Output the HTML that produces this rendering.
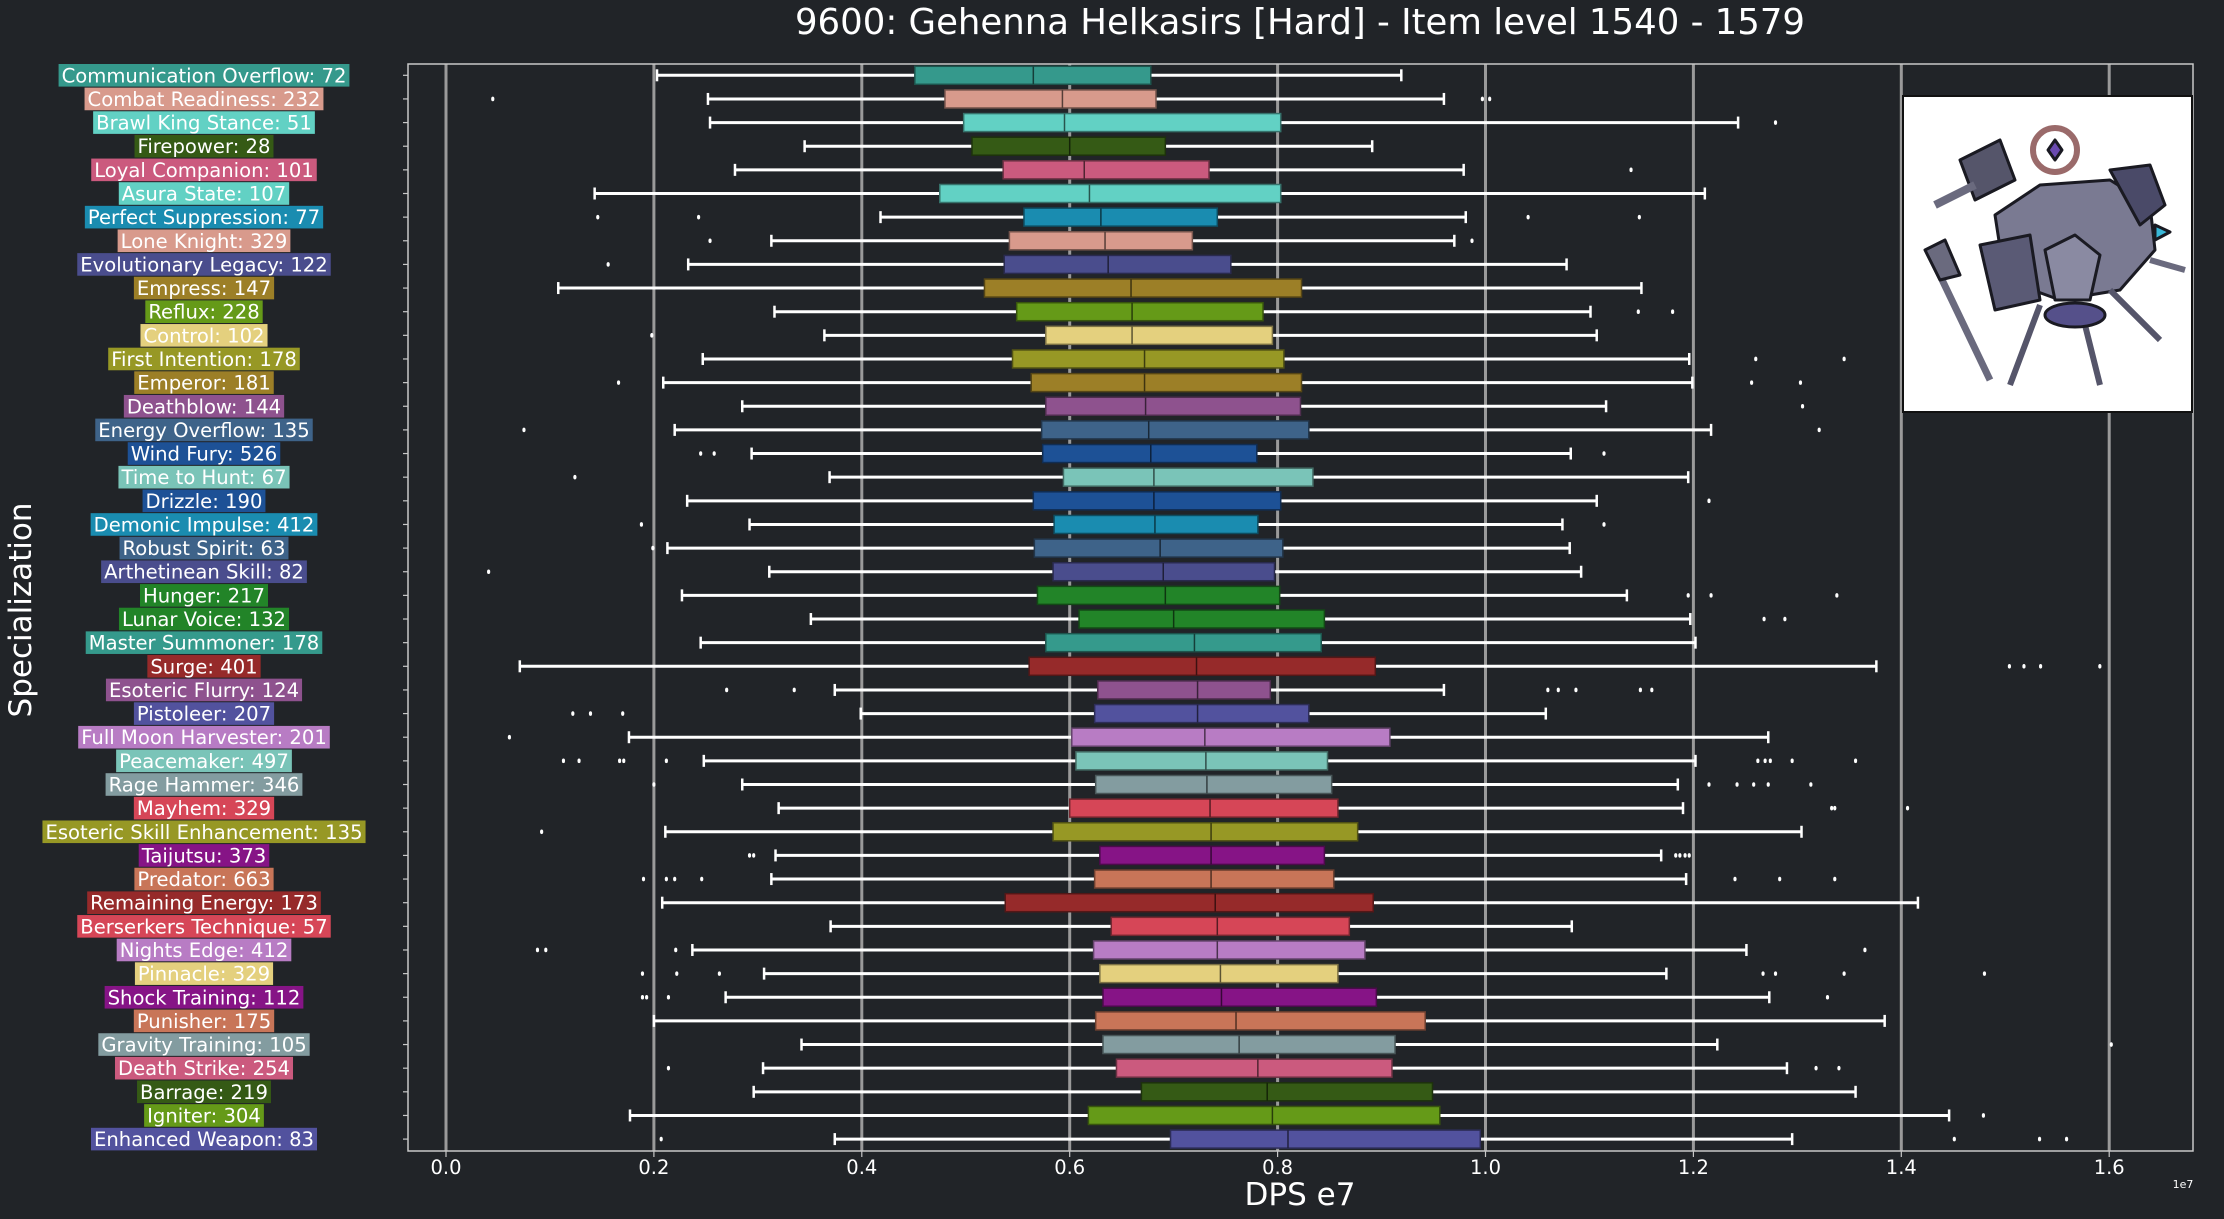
<!DOCTYPE html>
<html><head><meta charset="utf-8">
<style>
html,body{margin:0;padding:0;background:#212428;}
svg{display:block;}
text{font-family:"DejaVu Sans","Liberation Sans",sans-serif;}
</style></head>
<body>
<svg id="chart" width="2224" height="1219" viewBox="0 0 2224 1219" xmlns="http://www.w3.org/2000/svg">
<rect x="0" y="0" width="2224" height="1219" fill="#212428"/>
<text x="1300" y="34" text-anchor="middle" font-size="35.5" fill="#ffffff">9600: Gehenna Helkasirs [Hard] - Item level 1540 - 1579</text>
<g id="grid"></g>
<g id="marks"></g>
<rect x="408" y="64" width="1785" height="1087" fill="none" stroke="#c8c8c8" stroke-width="1.5"/>
<g id="ylabels"></g>
<g id="xticks"></g>
<text x="1300" y="1205" text-anchor="middle" font-size="31" fill="#ffffff">DPS e7</text>
<text x="2183" y="1188" text-anchor="middle" font-size="11" fill="#ffffff">1e7</text>
<text transform="translate(31,610) rotate(-90)" text-anchor="middle" font-size="31" fill="#ffffff">Specialization</text>
<g id="portrait">
  <rect x="1903" y="96" width="289" height="316" fill="#ffffff" stroke="#111" stroke-width="2"/>
  <g stroke="#1a1a22" stroke-width="3" stroke-linejoin="round">
    <polygon points="1960,160 2000,140 2015,180 1975,200" fill="#55556a"/>
    <line x1="1935" y1="205" x2="1975" y2="185" stroke="#6a6a7e" stroke-width="8"/>
    <circle cx="2055" cy="150" r="22" fill="#ffffff" stroke="#9a6a6a" stroke-width="6"/>
    <polygon points="2055,140 2062,150 2055,160 2048,150" fill="#6a4ab0"/>
    <path d="M1995,215 L2040,185 L2110,180 L2150,205 L2155,250 L2120,290 L2060,300 L2005,280 Z" fill="#7a7a92"/>
    <path d="M1980,245 L2030,235 L2040,300 L1995,310 Z" fill="#5a5a75"/>
    <path d="M2045,250 L2075,235 L2100,255 L2090,300 L2055,300 Z" fill="#8a8aa2"/>
    <path d="M2110,170 L2150,165 L2165,205 L2140,225 Z" fill="#4a4a68"/>
    <polygon points="2155,225 2170,232 2155,240" fill="#3ab8d8"/>
    <line x1="1935" y1="265" x2="1990" y2="380" stroke="#6a6a7e" stroke-width="7"/>
    <polygon points="1925,250 1945,240 1960,275 1940,280" fill="#6a6a7e"/>
    <line x1="2040" y1="305" x2="2010" y2="385" stroke="#55556a" stroke-width="6"/>
    <line x1="2080" y1="305" x2="2100" y2="385" stroke="#55556a" stroke-width="6"/>
    <line x1="2110" y1="290" x2="2160" y2="340" stroke="#55556a" stroke-width="6"/>
    <ellipse cx="2075" cy="315" rx="30" ry="12" fill="#55508a"/>
    <line x1="2150" y1="260" x2="2185" y2="270" stroke="#6a6a7e" stroke-width="6"/>
  </g>
</g>
</svg>
<script>
const categories = ["Communication Overflow","Combat Readiness","Brawl King Stance","Firepower","Loyal Companion","Asura State","Perfect Suppression","Lone Knight","Evolutionary Legacy","Empress","Reflux","Control","First Intention","Emperor","Deathblow","Energy Overflow","Wind Fury","Time to Hunt","Drizzle","Demonic Impulse","Robust Spirit","Arthetinean Skill","Hunger","Lunar Voice","Master Summoner","Surge","Esoteric Flurry","Pistoleer","Full Moon Harvester","Peacemaker","Rage Hammer","Mayhem","Esoteric Skill Enhancement","Taijutsu","Predator","Remaining Energy","Berserkers Technique","Nights Edge","Pinnacle","Shock Training","Punisher","Gravity Training","Death Strike","Barrage","Igniter","Enhanced Weapon"];
const counts = [72,232,51,28,101,107,77,329,122,147,228,102,178,181,144,135,526,67,190,412,63,82,217,132,178,401,124,207,201,497,346,329,135,373,663,173,57,412,329,112,175,105,254,219,304,83];
const whiskerLo = [0.203,0.252,0.254,0.345,0.278,0.143,0.418,0.313,0.233,0.108,0.316,0.364,0.247,0.209,0.285,0.220,0.294,0.369,0.232,0.292,0.213,0.311,0.227,0.351,0.245,0.071,0.374,0.399,0.176,0.248,0.285,0.320,0.211,0.317,0.313,0.208,0.370,0.237,0.306,0.269,0.200,0.342,0.305,0.296,0.177,0.374];
const q1 = [0.451,0.480,0.498,0.506,0.536,0.475,0.556,0.542,0.537,0.518,0.549,0.577,0.545,0.563,0.577,0.573,0.574,0.594,0.565,0.585,0.566,0.584,0.569,0.609,0.577,0.561,0.627,0.624,0.602,0.606,0.625,0.600,0.584,0.629,0.624,0.538,0.640,0.623,0.629,0.632,0.625,0.632,0.645,0.669,0.618,0.697];
const medians = [0.565,0.593,0.595,0.600,0.614,0.619,0.630,0.634,0.637,0.659,0.660,0.660,0.672,0.672,0.673,0.676,0.678,0.681,0.681,0.682,0.687,0.690,0.692,0.700,0.720,0.722,0.723,0.723,0.730,0.731,0.732,0.735,0.736,0.736,0.736,0.740,0.742,0.742,0.745,0.746,0.760,0.763,0.781,0.790,0.795,0.810];
const q3 = [0.678,0.683,0.803,0.692,0.734,0.803,0.742,0.718,0.755,0.823,0.786,0.795,0.806,0.823,0.822,0.830,0.780,0.834,0.803,0.781,0.805,0.797,0.802,0.845,0.842,0.894,0.793,0.830,0.908,0.848,0.852,0.858,0.877,0.845,0.854,0.892,0.869,0.884,0.858,0.895,0.942,0.913,0.910,0.949,0.956,0.995];
const whiskerHi = [0.919,0.960,1.243,0.891,0.979,1.211,0.981,0.970,1.078,1.150,1.101,1.107,1.196,1.199,1.116,1.217,1.082,1.195,1.107,1.074,1.081,1.092,1.136,1.197,1.202,1.376,0.960,1.058,1.272,1.202,1.185,1.190,1.304,1.169,1.193,1.416,1.083,1.251,1.174,1.273,1.384,1.223,1.290,1.356,1.446,1.295];
const outliers = [
 [],[0.045,0.997,1.004],[1.279],[],[1.14],[],[0.146,0.243,1.041,1.148],[0.254,0.987],[0.156],[],
 [1.147,1.180],[0.198],[1.260,1.345],[0.166,1.256,1.303],[1.305],[0.075,1.321],[0.245,0.258,1.114],[0.124],[1.215],[0.188,1.114],
 [0.199],[0.041],[1.195,1.217,1.338],[1.268,1.288],[],[1.504,1.518,1.534,1.591],[0.270,0.335,1.060,1.070,1.087,1.149,1.160],[0.122,0.139,0.170],[0.061],[0.113,0.128,0.167,0.171,0.212,1.262,1.269,1.274,1.295,1.356],
 [0.200,1.215,1.242,1.258,1.272,1.313],[1.333,1.336,1.406],[0.092],[0.292,0.296,1.183,1.187,1.192,1.196],[0.190,0.212,0.220,0.246,1.240,1.283,1.336],[],[],[0.088,0.096,0.221,1.365],[0.189,0.222,0.263,1.267,1.279,1.345,1.480],[0.189,0.193,0.214,1.329],
 [],[1.602],[0.214,1.318,1.340],[],[1.479],[0.207,1.451,1.533,1.559]
];
const xTicks = [0,0.2,0.4,0.6,0.8,1.0,1.2,1.4,1.6];
const xTickLabels = ["0.0","0.2","0.4","0.6","0.8","1.0","1.2","1.4","1.6"];
const palette = ["#35998c","#d89a8c","#62d1c4","#355a15","#cb5a7e","#62d1c4","#1a8cb0","#d89a8c","#4a4d8d","#9c7f27","#659a18","#e4d07e","#979825","#9c7f27","#8e528e","#3e6389","#1d5196","#7ac4b8","#1d5196","#1a8cb0","#3e6389","#4a4d8d","#228428","#228428","#359a8c","#962a2a","#8e528e","#52529e","#b87cc4","#7ac4b8","#839ca0","#d64657","#979825","#861486","#c87558","#962a2a","#d64657","#b87cc4","#e4d07e","#861486","#c87558","#839ca0","#cb5a7e","#355a15","#659a18","#52529e"];

const NS = "http://www.w3.org/2000/svg";
function xScale(v){ return 446 + v * 1039.5; }
function yScale(i){ return 75.3 + i * 23.64; }
function mk(tag, attrs, parent){ const e = document.createElementNS(NS, tag); for (const k in attrs) e.setAttribute(k, attrs[k]); parent.appendChild(e); return e; }
function darker(hex, f){ const n = parseInt(hex.slice(1),16); const r=Math.round(((n>>16)&255)*f), g=Math.round(((n>>8)&255)*f), b=Math.round((n&255)*f); return "rgb("+r+","+g+","+b+")"; }

const grid = document.getElementById("grid");
const xt = document.getElementById("xticks");
xTicks.forEach((t, k) => {
  const x = xScale(t);
  const gl = mk("line", {x1:x, y1:64, x2:x, y2:1151, stroke:"#9a9a9a", "stroke-width":3}, grid);
  
  
  const tk = mk("line", {x1:x, y1:1151, x2:x, y2:1157, stroke:"#c8c8c8", "stroke-width":1.2}, xt);
  
  
  const tl = mk("text", {x:x, y:1174, "text-anchor":"middle", "font-size":19.5, fill:"#ffffff"}, xt);
  tl.textContent = xTickLabels[k];
  
  
});

const marks = document.getElementById("marks");
const yl = document.getElementById("ylabels");
const meas = mk("text", {x:-1000, y:-1000, "font-size":19.6}, yl);
categories.forEach((cat, i) => {
  const y = yScale(i);
  const col = palette[i];
  const g = mk("g", {}, marks);
  
  
  const wl = mk("line", {x1:xScale(whiskerLo[i]), y1:y, x2:xScale(q1[i]), y2:y, stroke:"#ffffff", "stroke-width":3}, g);
  
  
  const wh = mk("line", {x1:xScale(q3[i]), y1:y, x2:xScale(whiskerHi[i]), y2:y, stroke:"#ffffff", "stroke-width":3}, g);
  
  
  [whiskerLo[i], whiskerHi[i]].forEach(v => {
    const c = mk("line", {x1:xScale(v), y1:y-6, x2:xScale(v), y2:y+6, stroke:"#ffffff", "stroke-width":2.5}, g);
    
    
  });
  const box = mk("rect", {x:xScale(q1[i]), y:y-9, width:xScale(q3[i])-xScale(q1[i]), height:18, fill:col, stroke:darker(col,0.55), "stroke-width":1.5}, g);
  
  
  const md = mk("line", {x1:xScale(medians[i]), y1:y-9, x2:xScale(medians[i]), y2:y+9, stroke:darker(col,0.4), "stroke-width":1.5}, g);
  
  
  outliers[i].forEach(v => {
    const o = mk("ellipse", {cx:xScale(v), cy:y, rx:1.6, ry:2.3, fill:"#ffffff"}, g);
    
    
  });
  const yt = mk("line", {x1:403, y1:y, x2:408, y2:y, stroke:"#c8c8c8", "stroke-width":1.2}, yl);
  
  
  const label = cat + ": " + counts[i];
  meas.textContent = label;
  const w = meas.getComputedTextLength();
  const cx = 204;
  const bg = mk("rect", {x:cx - w/2 - 3, y:y-11.3, width:w+6, height:22.6, fill:col}, yl);
  
  
  const t = mk("text", {x:cx, y:y+7, "text-anchor":"middle", "font-size":19.6, fill:"#ffffff"}, yl);
  t.textContent = label;
  
  
});
meas.remove();
</script>
</body></html>
